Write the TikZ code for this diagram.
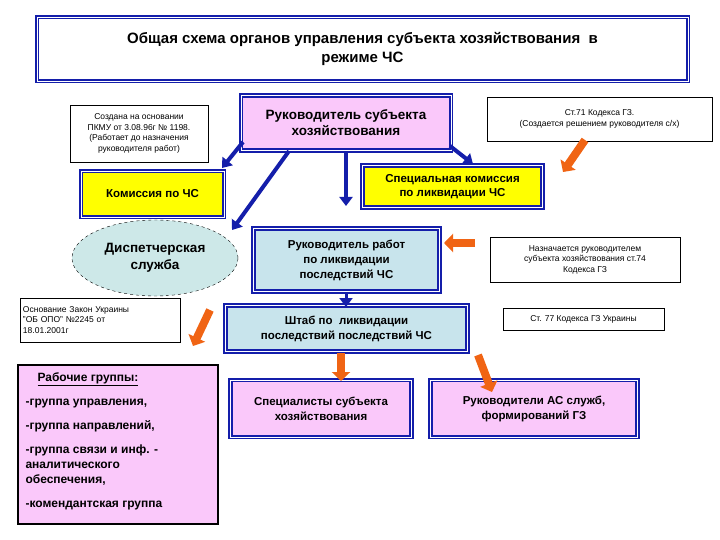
\documentclass[tikz,border=0pt]{standalone}
\usepackage{fontspec}
\setmainfont{Liberation Sans}
\usetikzlibrary{shapes.geometric,arrows.meta}
\definecolor{bl}{RGB}{20,30,170}
\definecolor{pk}{RGB}{250,200,250}
\definecolor{yl}{RGB}{255,255,0}
\definecolor{lb}{RGB}{200,228,236}
\definecolor{cy}{RGB}{205,232,232}
\definecolor{orng}{RGB}{240,100,20}
\tikzset{
 frame/.style={draw=bl,line width=1.8pt,double=white,double distance=0.8pt,inner sep=0pt,align=center,font=\bfseries},
 note/.style={draw=black,line width=0.6pt,fill=white,inner sep=0pt,align=center,font=\fontsize{8.5}{10.5}\selectfont},
 barr/.style={draw=bl,line width=4pt,-{Triangle[length=9pt,width=13pt]}},
 oarr/.style={draw=orng,line width=8pt,-{Triangle[length=9pt,width=18pt]}},
}
\begin{document}
\begin{tikzpicture}[x=1pt,y=-1pt]
\useasboundingbox (0,0) rectangle (720,540);
\node[frame,fill=white,minimum width=651pt,minimum height=64pt,font=\bfseries\fontsize{15}{19}\selectfont] (title) at (362.5,49) {Общая схема органов управления субъекта хозяйствования \ в\\режиме ЧС};
\node[note,minimum width=138pt,minimum height=57pt] (n1) at (139,133.5) {Создана на основании\\ПКМУ от 3.08.96г № 1198.\\(Работает до назначения\\руководителя работ)};
\node[frame,fill=pk,minimum width=210pt,minimum height=55pt,font=\bfseries\fontsize{13.5}{16}\selectfont] (ruk) at (346,123) {Руководитель субъекта\\хозяйствования};
\node[note,minimum width=225pt,minimum height=44pt] (n2) at (599.5,119) {Ст.71 Кодекса ГЗ.\\(Создается решением руководителя с/х)};
\node[frame,fill=yl,minimum width=143pt,minimum height=46pt,font=\bfseries\fontsize{11.5}{14}\selectfont] (kom) at (152.5,194) {Комиссия по ЧС};
\node[frame,fill=yl,minimum width=180pt,minimum height=42pt,font=\bfseries\fontsize{11.5}{14}\selectfont] (spec) at (452.5,186.5) {Специальная комиссия\\по ликвидации ЧС};
\node[ellipse,draw=black,dashed,fill=cy,minimum width=166pt,minimum height=76pt,align=center,font=\bfseries\fontsize{13.5}{17}\selectfont] (disp) at (155,258) {Диспетчерская\\служба};
\node[frame,fill=lb,minimum width=186pt,minimum height=63pt,font=\bfseries\fontsize{11.5}{15}\selectfont] (rr) at (346.5,260) {Руководитель работ\\по ликвидации\\последствий ЧС};
\node[note,minimum width=190pt,minimum height=45pt] (n3) at (585,259.5) {Назначается руководителем\\субъекта хозяйствования ст.74\\Кодекса ГЗ};
\node[note,minimum width=160pt,minimum height=44pt,align=left,text width=154pt] (n4) at (100,320) {Основание Закон Украины\\"ОБ ОПО" №2245 от\\18.01.2001г};
\node[frame,fill=lb,minimum width=242pt,minimum height=46pt,font=\bfseries\fontsize{11.5}{15}\selectfont] (sht) at (346.5,328.5) {Штаб по \ ликвидации\\последствий последствий ЧС};
\node[note,minimum width=161pt,minimum height=22pt] (n5) at (583.5,319) {Ст. 77 Кодекса ГЗ Украины};
\node[draw=black,line width=1.2pt,fill=pk,minimum width=200pt,minimum height=159pt,inner sep=0pt] (rg) at (118,444.5) {};
\node[anchor=north west,align=left,font=\bfseries\fontsize{12}{15}\selectfont] (rgt) at (22,369) {\quad\underline{Рабочие группы:}\\[9pt]-группа управления,\\[9pt]-группа направлений,\\[9pt]-группа связи и инф. -\\аналитического\\обеспечения,\\[9pt]-комендантская группа};
\node[frame,fill=pk,minimum width=181pt,minimum height=57pt,font=\bfseries\fontsize{11.5}{15}\selectfont] (sp) at (321,408.5) {Специалисты субъекта\\хозяйствования};
\node[frame,fill=pk,minimum width=207pt,minimum height=57pt,font=\bfseries\fontsize{11.5}{15}\selectfont] (ras) at (534,408.5) {Руководители АС служб,\\формирований ГЗ};
% blue arrows
\coordinate (a1s) at (243,142); \coordinate (a1e) at (222,168);
\coordinate (a2s) at (289,151); \coordinate (a2e) at (232,230);
\coordinate (a3s) at (346,153); \coordinate (a3e) at (346,206);
\coordinate (a4s) at (450,146); \coordinate (a4e) at (473,164);
\coordinate (a5s) at (346,292); \coordinate (a5e) at (346,307);
\draw[barr] (a1s) -- (a1e);
\draw[barr] (a2s) -- (a2e);
\draw[barr] (a3s) -- (a3e);
\draw[barr] (a4s) -- (a4e);
\draw[barr,line width=3pt] (a5s) -- (a5e);
% orange arrows
\coordinate (o1s) at (585,140); \coordinate (o1e) at (563,172);
\coordinate (o2s) at (475,243); \coordinate (o2e) at (444,243);
\coordinate (o3s) at (210,310); \coordinate (o3e) at (193,346);
\coordinate (o4s) at (341,353); \coordinate (o4e) at (341,381);
\coordinate (o5s) at (478,355); \coordinate (o5e) at (492,392);
\foreach \i in {1,...,5}{\draw[oarr] (o\i s) -- (o\i e);}
\end{tikzpicture}
\end{document}
